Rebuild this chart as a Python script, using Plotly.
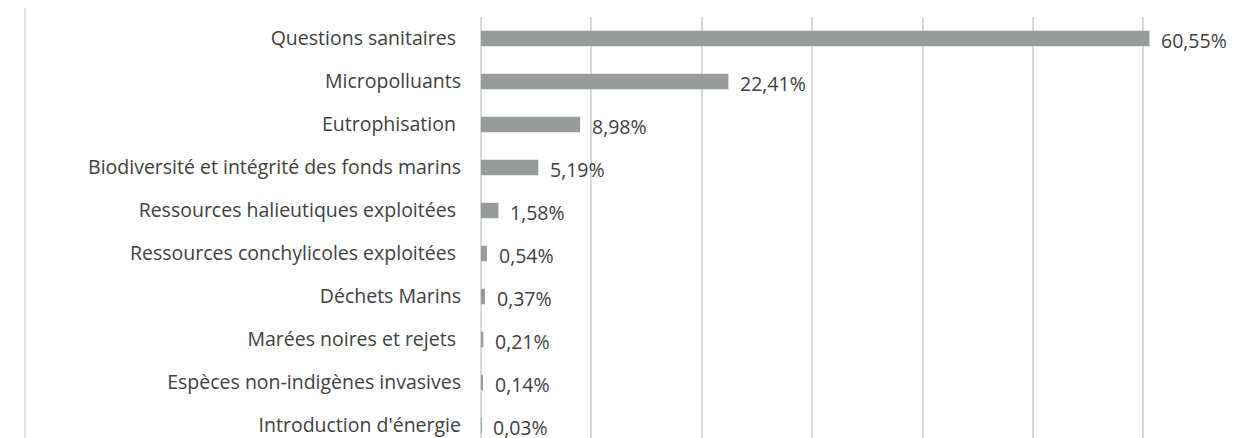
import plotly.graph_objects as go

categories = [
    "Questions sanitaires ",
    "Micropolluants",
    "Eutrophisation ",
    "Biodiversité et intégrité des fonds marins",
    "Ressources halieutiques exploitées ",
    "Ressources conchylicoles exploitées ",
    "Déchets Marins",
    "Marées noires et rejets ",
    "Espèces non-indigènes invasives",
    "Introduction d'énergie",
]
values = [60.55, 22.41, 8.98, 5.19, 1.58, 0.54, 0.37, 0.21, 0.14, 0.03]
value_labels = [f"{v:.2f}".replace(".", ",") + "%" for v in values]

# page body has an 8px margin; compensate so marks land where the reference has them
OFF = 8
W, H = 1237 - OFF, 438 - OFF
L, T = 481 - OFF, 17 - OFF
font_family = "Open Sans, Lato, sans-serif"
font_size = 19.5
text_color = "#404040"
grid_color = "#d9d9d9"

fig = go.Figure(
    go.Bar(
        y=categories,
        x=values,
        orientation="h",
        marker=dict(color="#989b9b", line=dict(width=0)),
        width=0.36,
        hoverinfo="skip",
    )
)

for c, v, t in zip(categories, values, value_labels):
    fig.add_annotation(
        x=v, y=c, text=t, showarrow=False, xanchor="left", xshift=10, yshift=-2,
        font=dict(family=font_family, size=font_size, color=text_color),
    )

plot_w = W - L
plot_h = H - T
row = 43.0
fig.update_layout(
    width=W, height=H,
    margin=dict(l=L, r=0, t=T, b=0, autoexpand=False),
    paper_bgcolor="white", plot_bgcolor="white",
    showlegend=False,
    xaxis=dict(
        range=[0, plot_w / 11.04], dtick=10, showticklabels=False,
        showgrid=True, gridcolor=grid_color, gridwidth=1.5,
        zeroline=True, zerolinecolor=grid_color, zerolinewidth=1.5,
        showline=False, fixedrange=True, automargin=False,
    ),
    yaxis=dict(
        type="category", automargin=False,
        range=[(plot_h / row) - 0.5, -0.5],
        showgrid=False, zeroline=False, showline=False,
        ticks="", ticklabelstandoff=19,
        tickfont=dict(family=font_family, size=font_size, color=text_color),
    ),
)

fig.add_shape(
    type="line", xref="paper", yref="paper",
    x0=(25 - 481) / plot_w, x1=(25 - 481) / plot_w, y0=0, y1=1 + T / plot_h,
    line=dict(color=grid_color, width=1.5),
)

fig.write_html("out.html")
